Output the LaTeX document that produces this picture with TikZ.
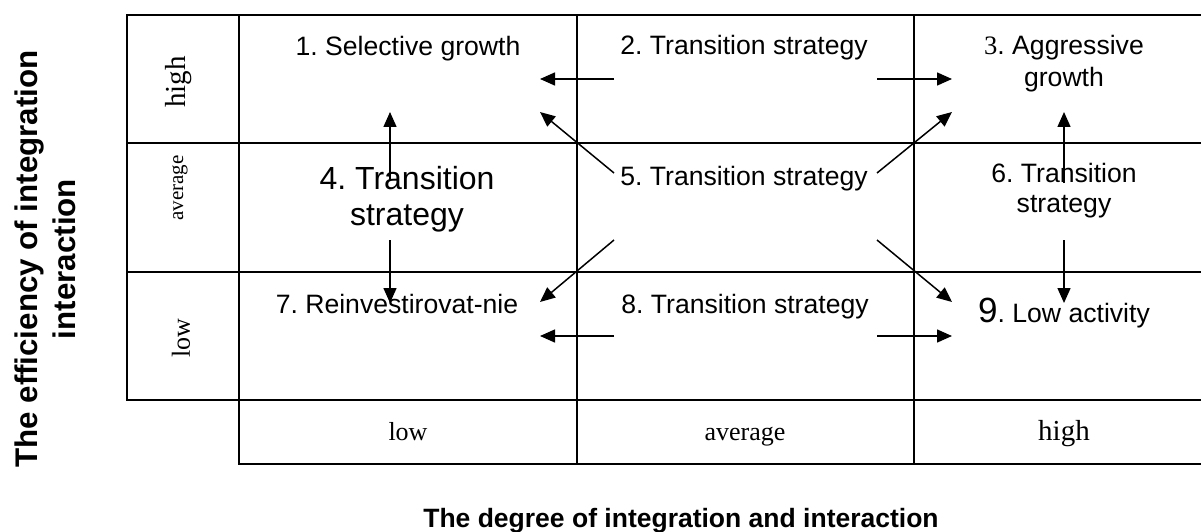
\documentclass[tikz,border=0pt]{standalone}
\usepackage{fontspec}
\setmainfont{Liberation Sans}
\newfontfamily\serifrm{Liberation Serif}
\usetikzlibrary{arrows.meta}
\frenchspacing
\begin{document}
\begin{tikzpicture}[x=1pt,y=-1pt,
  gridline/.style={line width=2pt,line cap=rect},
  flow/.style={line width=1.5pt,-{Triangle[length=15pt,width=13pt]}},
  celltext/.style={inner sep=0pt,font=\fontsize{26.6}{32}\selectfont},
  bigtext/.style={inner sep=0pt,font=\fontsize{32}{36}\selectfont},
  levelh/.style={inner sep=0pt,font=\serifrm\fontsize{29}{30}\selectfont},
  levell/.style={inner sep=0pt,font=\serifrm\fontsize{26}{28}\selectfont},
  levela/.style={inner sep=0pt,font=\serifrm\fontsize{26}{28}\selectfont},
  axistitle/.style={inner sep=0pt,font=\bfseries\fontsize{26.5}{30}\selectfont}]
\useasboundingbox (0,0) rectangle (1201,532);

% table frame and cell rules
\draw[gridline] (127,15) rectangle (1214,400);
\draw[gridline] (239,400) -- (239,464) -- (1214,464);
\draw[gridline] (239,15) -- (239,400);
\draw[gridline] (127,143) -- (1214,143);
\draw[gridline] (127,271.5) -- (1214,271.5);
\draw[gridline] (577,15) -- (577,464);
\draw[gridline] (914,15) -- (914,464);

% row levels (vertical axis)
\node[levelh,rotate=90] (rh) at (179,82) {high};
\node[levela,font=\serifrm\fontsize{21}{24}\selectfont,rotate=90] (ra) at (180,188) {average};
\node[levell,rotate=90] (rl) at (181,338) {low};

% column levels (horizontal axis)
\node[levell,anchor=base] (cl) at (408,440) {low};
\node[levela,anchor=base] (ca) at (745,440) {average};
\node[levelh,anchor=base] (ch) at (1064,440) {high};

% strategy cells
\node[celltext,anchor=base] (n1) at (408,56) {1. Selective growth};
\node[celltext,anchor=base] (n2) at (744,55) {2. Transition strategy};
\node[celltext,align=center] (n3) at (1064,64) {{\serifrm 3}. Aggressive\\growth};
\node[bigtext,align=center] (n4) at (407,199) {4. Transition\\strategy};
\node[celltext,anchor=base] (n5) at (744,185) {5. Transition strategy};
\node[celltext,align=center,font=\fontsize{26.6}{30}\selectfont] (n6) at (1064,191) {6. Transition\\strategy};
\node[celltext,anchor=base] (n7) at (397,313) {7. Reinvestirovat-nie};
\node[celltext,anchor=base] (n8) at (745,313) {8. Transition strategy};
\node[celltext,anchor=base] (n9) at (1064,322) {{\fontsize{35}{35}\selectfont 9}. Low activity};

% axis titles
\node[axistitle,anchor=base] (xt) at (681,527) {The degree of integration and interaction};
\node[axistitle,font=\bfseries\fontsize{31.3}{38}\selectfont,align=center,rotate=90] (yt) at (45,259) {The efficiency of integration\\interaction};

% arrow end points
\coordinate (s2l) at (614,79);   \coordinate (e1a) at (540,79);
\coordinate (s2r) at (877,79);   \coordinate (e3a) at (952,79);
\coordinate (s5ul) at (614,173); \coordinate (e1b) at (540,112);
\coordinate (s5ur) at (877,173); \coordinate (e3b) at (952,112);
\coordinate (s5ll) at (614,240); \coordinate (e7a) at (540,302);
\coordinate (s5lr) at (877,240); \coordinate (e9a) at (952,302);
\coordinate (s8l) at (614,336);  \coordinate (e7b) at (540,336);
\coordinate (s8r) at (877,336);  \coordinate (e9b) at (952,336);
\coordinate (s4u) at (390,180);  \coordinate (e1c) at (390,112);
\coordinate (s4d) at (390,240);  \coordinate (e7c) at (390,303);
\coordinate (s6u) at (1064,183); \coordinate (e3c) at (1064,112);
\coordinate (s6d) at (1064,240); \coordinate (e9c) at (1064,303);

% transitions between strategies
\draw[flow] (s2l) -- (e1a);
\draw[flow] (s2r) -- (e3a);
\draw[flow] (s5ul) -- (e1b);
\draw[flow] (s5ur) -- (e3b);
\draw[flow] (s5ll) -- (e7a);
\draw[flow] (s5lr) -- (e9a);
\draw[flow] (s8l) -- (e7b);
\draw[flow] (s8r) -- (e9b);
\draw[flow] (s4u) -- (e1c);
\draw[flow] (s4d) -- (e7c);
\draw[flow] (s6u) -- (e3c);
\draw[flow] (s6d) -- (e9c);
\end{tikzpicture}
\end{document}
